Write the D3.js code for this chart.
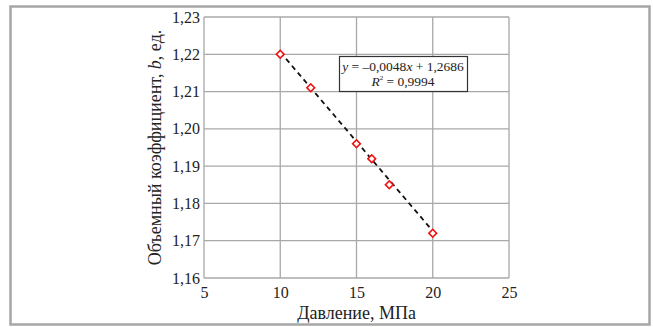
<!DOCTYPE html>
<html>
<head>
<meta charset="utf-8">
<script src="https://cdn.jsdelivr.net/npm/d3@7"></script>
<style>
  body { margin: 0; background: #fff; }
  text { font-family: "Liberation Serif", "DejaVu Serif", serif; fill: #222; }
</style>
</head>
<body>
<div id="chart"></div>
<script>
// Pressure (MPa) vs volume factor b
const pressure = [10, 12, 15, 16, 17.15, 20];
const volumeFactor = [1.220, 1.211, 1.196, 1.192, 1.185, 1.172];
const xTicks = [5, 10, 15, 20, 25];
const yTicks = [1.16, 1.17, 1.18, 1.19, 1.20, 1.21, 1.22, 1.23];
const trendSlope = -0.0048;
const trendIntercept = 1.2686;
const trendRange = [10, 20];

const width = 653, height = 327;
const margin = {top: 17, right: 144, bottom: 49, left: 204};

const svg = d3.select("#chart").append("svg")
    .attr("width", width)
    .attr("height", height);

// outer frame
svg.append("rect")
    .attr("x", 10.5).attr("y", 6.5)
    .attr("width", 639).attr("height", 318)
    .attr("fill", "none")
    .attr("stroke", "#a6a6a6")
    .attr("stroke-width", 2.5);

const x = d3.scaleLinear().domain([5, 25]).range([margin.left, width - margin.right]);
const y = d3.scaleLinear().domain([1.16, 1.23]).range([height - margin.bottom, margin.top]);

const comma = v => d3.format(".2f")(v).replace(".", ",");

// grid
const grid = svg.append("g").attr("stroke", "#a8a8a8").attr("stroke-width", 1.3);
grid.selectAll(".gx").data(xTicks).join("line")
    .attr("x1", d => x(d)).attr("x2", d => x(d))
    .attr("y1", y(1.16)).attr("y2", y(1.23));
grid.selectAll(".gy").data(yTicks).join("line")
    .attr("x1", x(5)).attr("x2", x(25))
    .attr("y1", d => y(d)).attr("y2", d => y(d));

// axes (labels only)
const xAxis = svg.append("g")
    .attr("transform", `translate(0,${y(1.16)})`)
    .call(d3.axisBottom(x).tickValues(xTicks).tickSize(0).tickPadding(9));
const yAxis = svg.append("g")
    .attr("transform", `translate(${x(5)},0)`)
    .call(d3.axisLeft(y).tickValues(yTicks).tickFormat(comma).tickSize(0).tickPadding(4));
[xAxis, yAxis].forEach(g => {
    g.select(".domain").remove();
    g.selectAll(".tick text")
        .attr("font-family", "Liberation Serif, serif")
        .attr("font-size", 16)
        .attr("fill", "#222");
});

// trend line
svg.append("line")
    .attr("x1", x(trendRange[0])).attr("y1", y(trendSlope * trendRange[0] + trendIntercept))
    .attr("x2", x(trendRange[1])).attr("y2", y(trendSlope * trendRange[1] + trendIntercept))
    .attr("stroke", "#111")
    .attr("stroke-width", 1.8)
    .attr("stroke-dasharray", "5,4");

// markers
svg.selectAll(".pt").data(pressure).join("path")
    .attr("class", "pt")
    .attr("d", d3.symbol(d3.symbolSquare, 30))
    .attr("transform", (d, i) => `translate(${x(d)},${y(volumeFactor[i])}) rotate(45)`)
    .attr("fill", "#fff")
    .attr("stroke", "#ee1111")
    .attr("stroke-width", 1.6);

// equation box
const bx = 339, by = 56;
svg.append("rect")
    .attr("x", bx + 0.5).attr("y", by + 0.5)
    .attr("width", 128).attr("height", 35)
    .attr("fill", "#fff")
    .attr("stroke", "#333")
    .attr("stroke-width", 1.2);
const eq1 = svg.append("text")
    .attr("x", bx + 64).attr("y", by + 15)
    .attr("text-anchor", "middle")
    .attr("font-size", 13.5);
eq1.append("tspan").attr("font-style", "italic").text("y");
eq1.append("tspan").text(" = –0,0048");
eq1.append("tspan").attr("font-style", "italic").text("x");
eq1.append("tspan").text(" + 1,2686");
const eq2 = svg.append("text")
    .attr("x", bx + 64).attr("y", by + 30)
    .attr("text-anchor", "middle")
    .attr("font-size", 13.5);
eq2.append("tspan").attr("font-style", "italic").text("R");
eq2.append("tspan").attr("font-size", 7).attr("dy", -6).text("2");
eq2.append("tspan").attr("dy", 6).text(" = 0,9994");

// axis titles
svg.append("text")
    .attr("x", (x(5) + x(25)) / 2).attr("y", 319)
    .attr("text-anchor", "middle")
    .attr("font-size", 18)
    .text("Давление, МПа");

const yt = svg.append("text")
    .attr("transform", `translate(161,${(y(1.16) + y(1.23)) / 2}) rotate(-90)`)
    .attr("text-anchor", "middle")
    .attr("font-size", 18);
yt.append("tspan").text("Объемный коэффициент, ");
yt.append("tspan").attr("font-style", "italic").text("b");
yt.append("tspan").text(", ед.");
</script>
</body>
</html>
